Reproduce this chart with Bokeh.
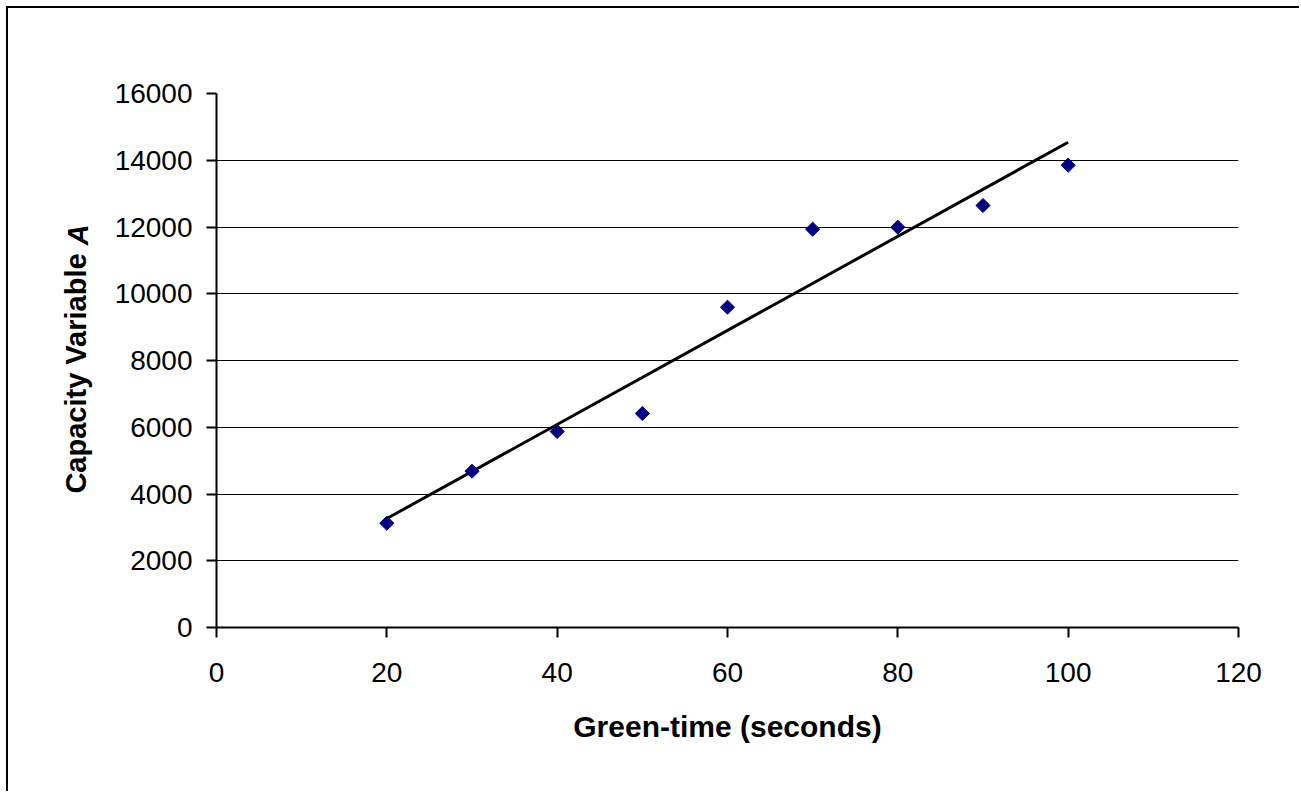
import numpy as np
from bokeh.plotting import figure
from bokeh.models import Range1d, FixedTicker, Label
from bokeh.embed import file_html
from bokeh.resources import INLINE
from math import pi

# Data
green_time = [20, 30, 40, 50, 60, 70, 80, 90, 100]
capacity_a = [3125, 4683, 5873, 6412, 9597, 11934, 11994, 12644, 13852]
x_ticks = [0, 20, 40, 60, 80, 100, 120]
y_ticks = [0, 2000, 4000, 6000, 8000, 10000, 12000, 14000, 16000]

# Linear trend line (least squares fit of the data)
slope, intercept = np.polyfit(green_time, capacity_a, 1)
trend_x = [min(green_time), max(green_time)]
trend_y = [slope * v + intercept for v in trend_x]

FONT = "Liberation Sans"

p = figure(width=1293, height=785,
           x_range=Range1d(0, 120), y_range=Range1d(0, 16000),
           output_backend="svg", toolbar_location=None,
           min_border_left=208, min_border_right=63,
           min_border_top=85, min_border_bottom=166)
p.styles = {"margin-left": "6px", "margin-top": "6px",
            "border-left": "2px solid black", "border-top": "2px solid black"}
p.background_fill_color = "white"
p.border_fill_color = "white"
p.outline_line_color = None

p.xgrid.grid_line_color = None
p.ygrid.grid_line_color = "black"
p.ygrid.grid_line_width = 1

for ax in (p.xaxis[0], p.yaxis[0]):
    ax.axis_line_color = "black"
    ax.axis_line_width = 2
    ax.major_tick_line_color = "black"
    ax.major_tick_line_width = 2
    ax.major_tick_out = 10
    ax.major_tick_in = 0
    ax.minor_tick_line_color = None
    ax.major_label_text_font = FONT
    ax.major_label_text_font_size = "28px"
    ax.major_label_text_color = "black"

p.xaxis[0].ticker = FixedTicker(ticks=x_ticks)
p.yaxis[0].ticker = FixedTicker(ticks=y_ticks)
p.xaxis[0].major_label_standoff = 25
p.yaxis[0].major_label_standoff = 14

p.xaxis[0].axis_label = "Green-time (seconds)"
p.xaxis[0].axis_label_text_font = FONT
p.xaxis[0].axis_label_text_font_size = "30px"
p.xaxis[0].axis_label_text_font_style = "bold"
p.xaxis[0].axis_label_text_color = "black"
p.xaxis[0].axis_label_standoff = 25

# Y axis label: "Capacity Variable " bold + "A" bold italic, in the left panel
lab1 = Label(x=-4, x_units="screen", y=11450, text="Capacity Variable ",
             angle=pi / 2, text_align="right", text_baseline="alphabetic",
             text_font=FONT, text_font_size="29px", text_font_style="bold",
             text_color="black")
lab2 = Label(x=30, x_units="screen", y=11450, text="A", angle=pi / 2,
             text_align="left", text_baseline="alphabetic",
             text_font=FONT, text_font_size="29px", text_font_style="bold italic",
             text_color="black")
p.add_layout(lab1, "left")
p.add_layout(lab2, "left")

p.line(trend_x, trend_y, line_color="black", line_width=3)
p.scatter(green_time, capacity_a, marker="square", angle=pi / 4, size=10,
          fill_color="#000080", line_color="#000080")

open("out.html", "w").write(file_html(p, INLINE))
